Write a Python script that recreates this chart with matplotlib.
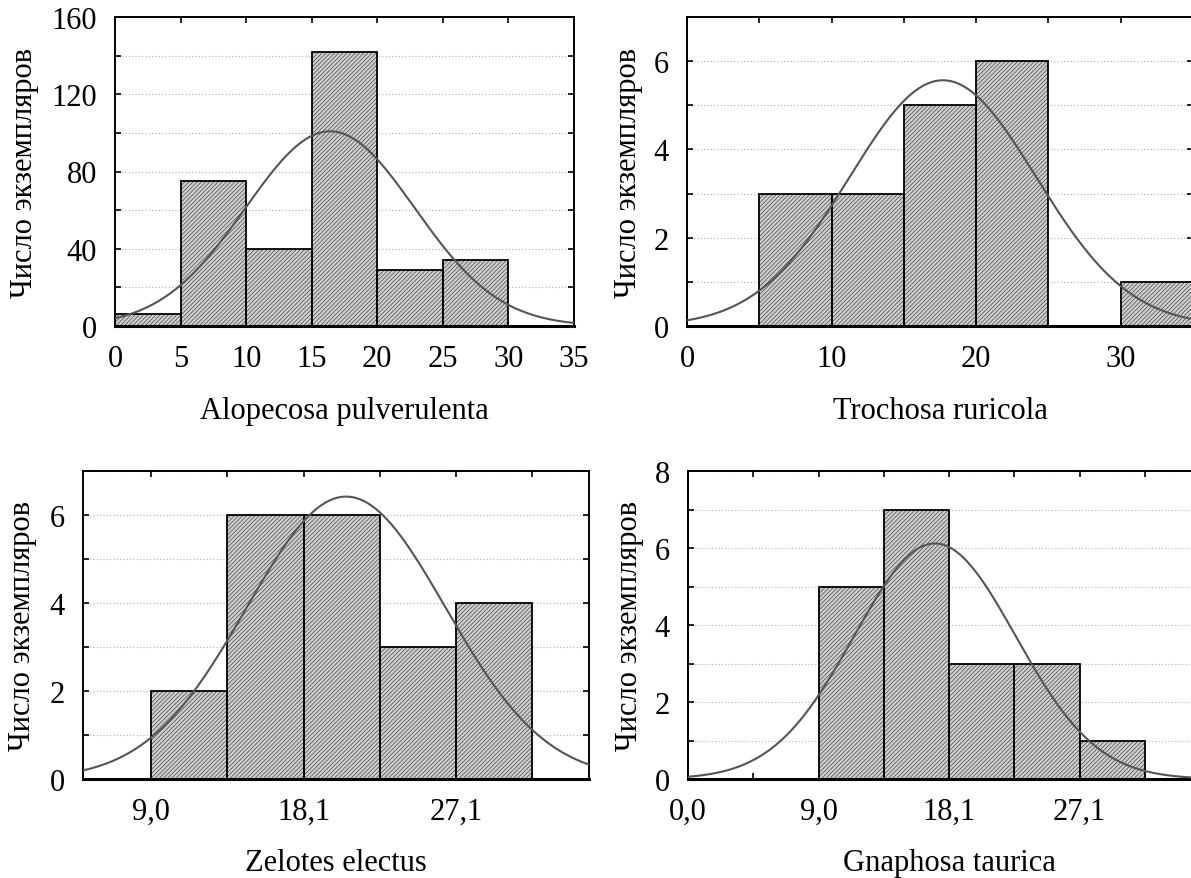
import numpy as np
import matplotlib.pyplot as plt

plt.rcParams['font.family'] = ['Liberation Serif', 'DejaVu Serif']
plt.rcParams['hatch.linewidth'] = 0.5

# --- data ---
ylabel = "Число экземпляров"

alo_edges = [0, 5, 10, 15, 20, 25, 30]
alo_counts = [6, 75, 40, 142, 29, 34]
alo_mean, alo_sd = 16.4, 6.45

tro_edges = [5, 10, 15, 20, 25, 30, 35]
tro_counts = [3, 3, 5, 6, 0, 1]
tro_mean, tro_sd = 17.7, 6.45

zel_edges = [9.04, 13.56, 18.08, 22.60, 27.12, 31.64]
zel_counts = [2, 6, 6, 3, 4]
zel_mean, zel_sd = 20.6, 5.9

gna_edges = [9.04, 13.56, 18.08, 22.60, 27.12, 31.64]
gna_counts = [5, 7, 3, 3, 1]
gna_mean, gna_sd = 17.1, 5.6

W, H = 1191, 879
fig = plt.figure(figsize=(W / 100, H / 100), dpi=100)


def box(l, r, t, b):
    return [l / W, (H - b) / H, (r - l) / W, (b - t) / H]


def panel(rect, edges, counts, mean, sd, xlim, ylim, ystep, ylab_every,
          xticks, xticklabels, xlabel, ylab_x):
    ax = fig.add_axes(rect)
    edges = np.array(edges)
    w = edges[1] - edges[0]
    ax.bar(edges[:-1], counts, width=w, align='edge', facecolor='#cfcfcf',
           edgecolor='#4a4a4a', hatch='////////', linewidth=0, zorder=2)
    ax.bar(edges[:-1], counts, width=w, align='edge', fill=False,
           edgecolor='black', linewidth=1.3, zorder=3)
    n = sum(counts)
    xs = np.linspace(xlim[0], xlim[1], 400)
    ys = n * w / (sd * np.sqrt(2 * np.pi)) * np.exp(-(xs - mean) ** 2 / (2 * sd ** 2))
    ax.plot(xs, ys, color='#555555', lw=1.5, zorder=4)

    ax.set_xlim(*xlim)
    ax.set_ylim(*ylim)
    yt = np.arange(ylim[0], ylim[1] + ystep / 2, ystep)
    ax.set_yticks(yt)
    ax.set_yticklabels([f"{v:g}" if (v / ystep) % ylab_every == 0 else "" for v in yt])
    ax.set_xticks(xticks)
    ax.set_xticklabels(xticklabels)
    ax.yaxis.grid(True, linestyle=(0, (1, 2)), color='#b0b0b0', lw=0.8)
    ax.set_axisbelow(True)
    ax.tick_params(direction='in', top=True, right=True, length=4.5, width=1.2,
                   labelsize=22, pad=13)
    for s in ['top', 'left', 'right']:
        ax.spines[s].set_linewidth(1.4)
    ax.spines['bottom'].set_linewidth(2.2)
    ax.set_xlabel(xlabel, fontsize=22)
    ax.xaxis.set_label_coords(0.5, -0.225)
    ax.set_ylabel(ylabel, fontsize=22)
    ax.yaxis.set_label_coords(ylab_x, 0.5)
    return ax


panel(box(115, 574, 18, 327), alo_edges, alo_counts, alo_mean, alo_sd,
      (0, 35), (0, 160), 20, 2, list(range(0, 36, 5)),
      [str(v) for v in range(0, 36, 5)], "Alopecosa pulverulenta", -0.165)

panel(box(687, 1193, 18, 327), tro_edges, tro_counts, tro_mean, tro_sd,
      (0, 35), (0, 7), 1, 2, list(range(0, 36, 5)),
      ["0", "", "10", "", "20", "", "30", ""], "Trochosa ruricola", -0.087)

zel_ticks = zel_edges
zel_labels = ["9,0", "", "18,1", "", "27,1", ""]
panel(box(83, 589, 472, 780), zel_edges, zel_counts, zel_mean, zel_sd,
      (5, 35), (0, 7), 1, 2, zel_ticks, zel_labels, "Zelotes electus", -0.09)

gna_ticks = [0.0, 4.52] + gna_edges + [36.16]
gna_labels = ["0,0", "", "9,0", "", "18,1", "", "27,1", "", ""]
panel(box(688, 1210, 472, 780), gna_edges, gna_counts, gna_mean, gna_sd,
      (0, 36.16), (0, 8), 1, 2, gna_ticks, gna_labels, "Gnaphosa taurica", -0.085)

fig.savefig("out.png", dpi=100)
